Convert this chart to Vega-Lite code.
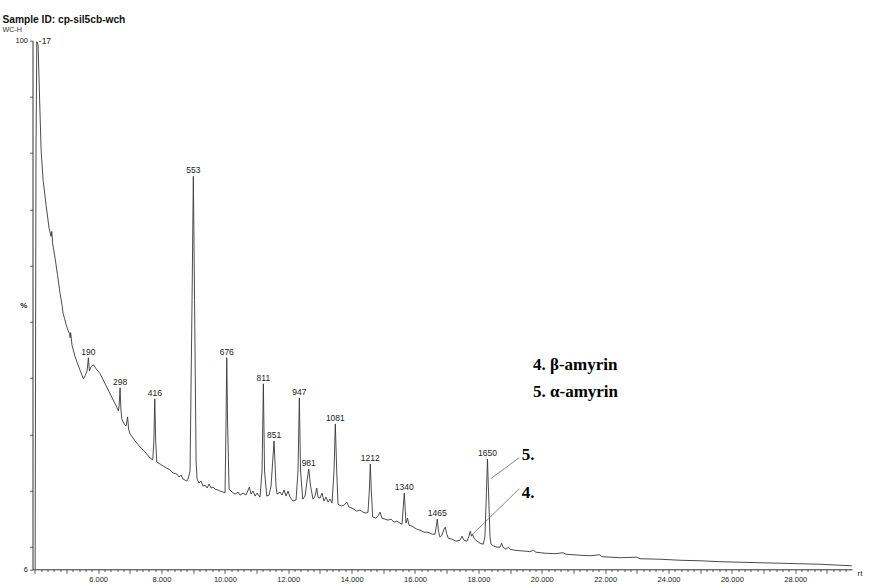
{
  "$schema": "https://vega.github.io/schema/vega-lite/v6.json",
  "autosize": "none",
  "width": 819.5,
  "height": 528.6,
  "padding": {"left": 32.5, "top": 40.7, "right": 21, "bottom": 18.7},
  "background": "white",
  "view": {"stroke": null},
  "title": {
    "text": "Sample ID: cp-sil5cb-wch",
    "subtitle": "\u3000WC-H",
    "anchor": "start",
    "frame": "group",
    "dx": -30,
    "offset": 4,
    "font": "Liberation Sans",
    "fontSize": 10.2,
    "fontWeight": "bold",
    "color": "#111",
    "subtitleFont": "Liberation Sans",
    "subtitleFontSize": 7.2,
    "subtitleColor": "#333",
    "subtitlePadding": 0
  },
  "config": {
    "axis": {
      "grid": false,
      "domainColor": "#333",
      "tickColor": "#333",
      "labelColor": "#222",
      "labelFont": "Liberation Sans",
      "titleFont": "Liberation Sans",
      "titleColor": "#222"
    }
  },
  "layer": [
    {
      "data": {"values": [
        {"t":4.013,"v":6.0},{"t":4.04,"v":80},{"t":4.066,"v":99.82},{"t":4.107,"v":99.23},{"t":4.155,"v":89.43},
        {"t":4.202,"v":80.52},{"t":4.265,"v":75.17},{"t":4.36,"v":70.71},{"t":4.454,"v":66.61},{"t":4.517,"v":65.19},
        {"t":4.539,"v":66.08},{"t":4.565,"v":63.94},{"t":4.644,"v":61.27},{"t":4.722,"v":58.23},{"t":4.801,"v":55.03},
        {"t":4.864,"v":52.89},{"t":4.896,"v":51.46},{"t":4.943,"v":50.57},{"t":4.991,"v":49.5},{"t":5.054,"v":48.43},
        {"t":5.101,"v":47.9},{"t":5.117,"v":47.19},{"t":5.133,"v":48.08},{"t":5.18,"v":45.76},{"t":5.274,"v":43.8},
        {"t":5.401,"v":41.84},{"t":5.536,"v":39.88},{"t":5.59,"v":40.41},{"t":5.653,"v":41.3},{"t":5.694,"v":43.62},
        {"t":5.726,"v":41.3},{"t":5.779,"v":42.02},{"t":5.852,"v":42.37},{"t":5.937,"v":41.66},{"t":6.063,"v":40.77},
        {"t":6.221,"v":38.99},{"t":6.379,"v":37.2},{"t":6.505,"v":35.78},{"t":6.599,"v":34.71},{"t":6.64,"v":34.17},
        {"t":6.663,"v":35.06},{"t":6.694,"v":38.27},{"t":6.719,"v":34.53},{"t":6.748,"v":32.75},{"t":6.82,"v":31.85},
        {"t":6.883,"v":31.5},{"t":6.931,"v":33.1},{"t":6.962,"v":30.96},{"t":7.009,"v":30.07},{"t":7.167,"v":28.83},
        {"t":7.325,"v":27.76},{"t":7.483,"v":26.86},{"t":7.64,"v":25.79},{"t":7.726,"v":25.44},{"t":7.76,"v":28.83},
        {"t":7.789,"v":36.31},{"t":7.817,"v":28.83},{"t":7.852,"v":25.08},{"t":7.956,"v":24.72},{"t":8.051,"v":24.37},
        {"t":8.167,"v":24.01},{"t":8.271,"v":23.66},{"t":8.366,"v":23.12},{"t":8.483,"v":22.94},{"t":8.555,"v":22.41},
        {"t":8.618,"v":22.76},{"t":8.681,"v":22.05},{"t":8.798,"v":21.69},{"t":8.839,"v":22.05},{"t":8.902,"v":23.48},
        {"t":8.965,"v":53.78},{"t":9.006,"v":75.88},{"t":9.044,"v":53.78},{"t":9.092,"v":25.26},{"t":9.123,"v":22.05},
        {"t":9.186,"v":21.34},{"t":9.249,"v":21.69},{"t":9.312,"v":20.8},{"t":9.375,"v":20.98},{"t":9.439,"v":20.45},
        {"t":9.502,"v":21.16},{"t":9.565,"v":20.45},{"t":9.628,"v":20.62},{"t":9.691,"v":20.27},{"t":9.786,"v":20.09},
        {"t":9.849,"v":19.91},{"t":9.943,"v":19.73},{"t":10.006,"v":19.61},{"t":10.038,"v":32.39},{"t":10.06,"v":43.62},
        {"t":10.085,"v":32.39},{"t":10.133,"v":20.27},{"t":10.227,"v":19.73},{"t":10.322,"v":19.37},{"t":10.416,"v":19.73},
        {"t":10.48,"v":19.2},{"t":10.574,"v":19.55},{"t":10.669,"v":19.2},{"t":10.773,"v":20.62},{"t":10.827,"v":19.37},
        {"t":10.89,"v":19.91},{"t":10.953,"v":19.02},{"t":11.016,"v":19.55},{"t":11.11,"v":18.84},{"t":11.174,"v":23.48},
        {"t":11.215,"v":38.99},{"t":11.252,"v":23.48},{"t":11.322,"v":19.02},{"t":11.394,"v":19.2},{"t":11.458,"v":20.8},
        {"t":11.552,"v":28.83},{"t":11.615,"v":20.8},{"t":11.647,"v":19.37},{"t":11.741,"v":19.73},{"t":11.805,"v":19.2},
        {"t":11.868,"v":20.09},{"t":11.931,"v":19.02},{"t":11.994,"v":19.91},{"t":12.057,"v":18.84},{"t":12.152,"v":18.13},
        {"t":12.246,"v":18.31},{"t":12.309,"v":23.48},{"t":12.35,"v":36.49},{"t":12.388,"v":23.48},{"t":12.458,"v":18.48},
        {"t":12.53,"v":19.02},{"t":12.593,"v":21.69},{"t":12.647,"v":23.83},{"t":12.704,"v":20.8},{"t":12.782,"v":18.48},
        {"t":12.846,"v":19.02},{"t":12.899,"v":20.45},{"t":12.94,"v":18.84},{"t":13.003,"v":18.66},{"t":13.066,"v":19.55},
        {"t":13.129,"v":18.13},{"t":13.193,"v":18.84},{"t":13.256,"v":17.95},{"t":13.319,"v":18.48},{"t":13.382,"v":17.77},
        {"t":13.445,"v":23.48},{"t":13.486,"v":31.85},{"t":13.53,"v":23.48},{"t":13.571,"v":17.59},{"t":13.666,"v":17.24},
        {"t":13.76,"v":17.41},{"t":13.846,"v":17.95},{"t":13.918,"v":17.06},{"t":14.013,"v":16.88},{"t":14.161,"v":16.35},
        {"t":14.265,"v":16.52},{"t":14.36,"v":16.17},{"t":14.454,"v":15.99},{"t":14.517,"v":16.17},{"t":14.558,"v":19.91},
        {"t":14.59,"v":24.72},{"t":14.622,"v":19.91},{"t":14.666,"v":15.28},{"t":14.77,"v":15.1},{"t":14.833,"v":15.46},
        {"t":14.896,"v":16.17},{"t":14.959,"v":15.1},{"t":15.054,"v":14.92},{"t":15.148,"v":14.74},{"t":15.243,"v":14.92},
        {"t":15.338,"v":14.39},{"t":15.432,"v":14.57},{"t":15.527,"v":14.21},{"t":15.59,"v":14.03},{"t":15.631,"v":17.24},
        {"t":15.663,"v":19.55},{"t":15.694,"v":16.35},{"t":15.716,"v":14.21},{"t":15.764,"v":15.1},{"t":15.811,"v":13.85},
        {"t":15.906,"v":13.67},{"t":16.054,"v":13.14},{"t":16.158,"v":12.96},{"t":16.284,"v":12.6},{"t":16.41,"v":12.6},
        {"t":16.536,"v":12.25},{"t":16.631,"v":12.25},{"t":16.672,"v":13.67},{"t":16.704,"v":14.92},{"t":16.741,"v":12.78},
        {"t":16.789,"v":11.71},{"t":16.852,"v":12.07},{"t":16.915,"v":13.14},{"t":16.956,"v":13.5},{"t":16.994,"v":12.42},
        {"t":17.051,"v":11.53},{"t":17.167,"v":11.35},{"t":17.294,"v":11.0},{"t":17.42,"v":11.18},{"t":17.483,"v":11.89},
        {"t":17.546,"v":11.18},{"t":17.641,"v":11.0},{"t":17.704,"v":11.89},{"t":17.745,"v":12.78},{"t":17.782,"v":11.89},
        {"t":17.814,"v":12.25},{"t":17.861,"v":11.53},{"t":17.956,"v":11.0},{"t":18.051,"v":10.64},{"t":18.155,"v":10.46},
        {"t":18.208,"v":11.89},{"t":18.256,"v":19.91},{"t":18.287,"v":25.61},{"t":18.319,"v":19.91},{"t":18.366,"v":11.89},
        {"t":18.398,"v":10.46},{"t":18.492,"v":10.11},{"t":18.587,"v":9.93},{"t":18.682,"v":9.93},{"t":18.735,"v":10.64},
        {"t":18.776,"v":9.93},{"t":18.871,"v":9.57},{"t":18.943,"v":9.93},{"t":18.997,"v":9.57},{"t":19.155,"v":9.39},
        {"t":19.312,"v":9.3},{"t":19.502,"v":9.22},{"t":19.628,"v":9.13},{"t":19.732,"v":9.39},{"t":19.817,"v":9.04},
        {"t":20.101,"v":8.86},{"t":20.417,"v":8.77},{"t":20.678,"v":8.95},{"t":20.764,"v":8.68},{"t":21.205,"v":8.5},
        {"t":21.521,"v":8.41},{"t":21.836,"v":8.59},{"t":21.899,"v":8.24},{"t":22.467,"v":8.06},{"t":22.994,"v":8.15},
        {"t":23.098,"v":7.88},{"t":23.729,"v":7.79},{"t":24.36,"v":7.61},{"t":24.991,"v":7.52},{"t":25.622,"v":7.35},
        {"t":26.253,"v":7.26},{"t":26.884,"v":7.17},{"t":27.514,"v":7.08},{"t":28.145,"v":6.99},{"t":28.776,"v":6.9},
        {"t":29.407,"v":6.72},{"t":29.786,"v":6.63}
      ]},
      "mark": {"type": "line", "color": "#383838", "strokeWidth": 0.9, "clip": true},
      "encoding": {
        "x": {
          "field": "t", "type": "quantitative",
          "scale": {"domain": [3.93, 29.79], "nice": false, "zero": false},
          "axis": {
            "title": "rt",
            "titleFontSize": 8,
            "titleFontWeight": "normal",
            "titleX": 824.5,
            "titleY": 6,
            "titleAlign": "left",
            "titleBaseline": "alphabetic",
            "tickCount": 1000,
            "values": [4,4.2,4.4,4.6,4.8,5,5.2,5.4,5.6,5.8,6,6.2,6.4,6.6,6.8,7,7.2,7.4,7.6,7.8,8,8.2,8.4,8.6,8.8,9,9.2,9.4,9.6,9.8,10,10.2,10.4,10.6,10.8,11,11.2,11.4,11.6,11.8,12,12.2,12.4,12.6,12.8,13,13.2,13.4,13.6,13.8,14,14.2,14.4,14.6,14.8,15,15.2,15.4,15.6,15.8,16,16.2,16.4,16.6,16.8,17,17.2,17.4,17.6,17.8,18,18.2,18.4,18.6,18.8,19,19.2,19.4,19.6,19.8,20,20.2,20.4,20.6,20.8,21,21.2,21.4,21.6,21.8,22,22.2,22.4,22.6,22.8,23,23.2,23.4,23.6,23.8,24,24.2,24.4,24.6,24.8,25,25.2,25.4,25.6,25.8,26,26.2,26.4,26.6,26.8,27,27.2,27.4,27.6,27.8,28,28.2,28.4,28.6,28.8,29,29.2,29.4,29.6],
            "labelExpr": "(datum.value % 2 === 0 && datum.value >= 6) ? format(datum.value, '.3f') : ''",
            "labelOverlap": false,
            "labelFlush": false,
            "labelFontSize": 7.5,
            "labelPadding": 2.5,
            "tickSize": {"condition": {"test": "datum.value % 1 === 0", "value": 4}, "value": 2.2},
            "tickWidth": 0.8,
            "domainWidth": 1
          }
        },
        "y": {
          "field": "v", "type": "quantitative",
          "scale": {"domain": [6, 100], "nice": false, "zero": false},
          "axis": {
            "title": "%",
            "titleAngle": 0,
            "titleX": -9.2,
            "titleY": 264.8,
            "titleAlign": "center",
            "titleBaseline": "middle",
            "titleFontSize": 8,
            "titleFontWeight": "bold",
            "tickCount": 1000,
            "values": [6,10,20,30,40,50,60,70,80,90,100],
            "labelExpr": "datum.value === 100 ? '100' : (datum.value === 6 ? '6' : '')",
            "labelFontSize": 7.5,
            "labelPadding": 2,
            "tickSize": 3,
            "tickWidth": 0.8,
            "domainWidth": 1
          }
        }
      }
    },
    {
      "data": {"values": [
        {"t":5.694,"v":43.62,"label":"190"},
        {"t":6.694,"v":38.27,"label":"298"},
        {"t":7.789,"v":36.31,"label":"416"},
        {"t":9.006,"v":75.88,"label":"553"},
        {"t":10.06,"v":43.62,"label":"676"},
        {"t":11.215,"v":38.99,"label":"811"},
        {"t":11.552,"v":28.83,"label":"851"},
        {"t":12.35,"v":36.49,"label":"947"},
        {"t":12.647,"v":23.83,"label":"981"},
        {"t":13.486,"v":31.85,"label":"1081"},
        {"t":14.59,"v":24.72,"label":"1212"},
        {"t":15.663,"v":19.55,"label":"1340"},
        {"t":16.704,"v":14.92,"label":"1465"},
        {"t":18.287,"v":25.61,"label":"1650"}
      ]},
      "mark": {"type": "text", "font": "Liberation Sans", "fontSize": 8.5, "color": "#222", "baseline": "alphabetic", "align": "center", "dy": -3},
      "encoding": {
        "x": {"field": "t", "type": "quantitative"},
        "y": {"field": "v", "type": "quantitative"},
        "text": {"field": "label"}
      }
    },
    {
      "data": {"values": [{"t":4.066,"v":99.82,"label":"-17"}]},
      "mark": {"type": "text", "font": "Liberation Sans", "fontSize": 8.5, "color": "#222", "baseline": "middle", "align": "left", "dx": 2, "dy": -1},
      "encoding": {
        "x": {"field": "t", "type": "quantitative"},
        "y": {"field": "v", "type": "quantitative"},
        "text": {"field": "label"}
      }
    },
    {
      "data": {"values": [
        {"t":18.388,"v":22.10,"t2":19.291,"v2":25.85},
        {"t":17.789,"v":12.07,"t2":19.291,"v2":20.32}
      ]},
      "mark": {"type": "rule", "color": "#555", "strokeWidth": 0.7},
      "encoding": {
        "x": {"field": "t", "type": "quantitative"},
        "y": {"field": "v", "type": "quantitative"},
        "x2": {"field": "t2"},
        "y2": {"field": "v2"}
      }
    },
    {
      "data": {"values": [
        {"t":19.366,"v":25.44,"label":"5."},
        {"t":19.366,"v":18.66,"label":"4."},
        {"t":19.723,"v":41.48,"label":"4. β-amyrin"},
        {"t":19.723,"v":36.67,"label":"5. α-amyrin"}
      ]},
      "mark": {"type": "text", "font": "Liberation Serif", "fontSize": 17, "fontWeight": "bold", "color": "#000", "align": "left", "baseline": "alphabetic"},
      "encoding": {
        "x": {"field": "t", "type": "quantitative"},
        "y": {"field": "v", "type": "quantitative"},
        "text": {"field": "label"}
      }
    }
  ]
}
